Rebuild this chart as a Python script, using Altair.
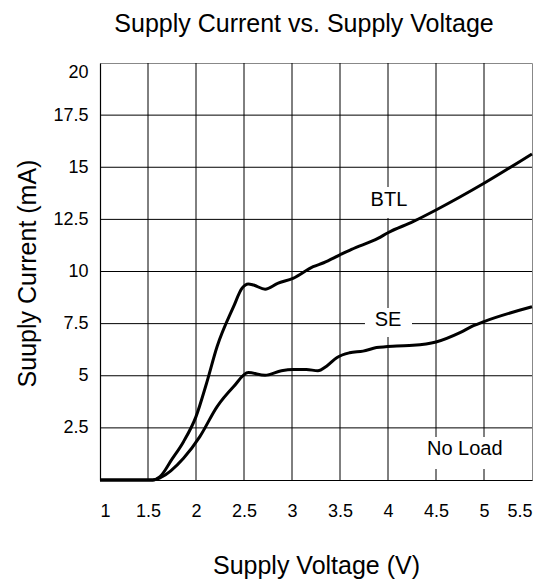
import altair as alt
import pandas as pd

# ---- data ----
btl_v = [1.0, 1.55, 1.625, 1.75, 1.87, 2.0, 2.11, 2.22, 2.39, 2.48, 2.545, 2.6, 2.72,
         2.85, 3.01, 3.22, 3.33, 3.5, 3.62, 3.9, 4.0, 4.26, 4.5, 5.0, 5.5]
btl_i = [0, 0, 0.16, 1.0, 1.84, 3.04, 4.64, 6.4, 8.3, 9.2, 9.4, 9.35, 9.15,
         9.43, 9.67, 10.23, 10.42, 10.8, 11.06, 11.6, 11.86, 12.39, 12.95, 14.23, 15.64]

se_v = [1.0, 1.55, 1.625, 1.87, 2.04, 2.22, 2.39, 2.545, 2.72, 2.89, 3.01, 3.15, 3.27,
        3.36, 3.47, 3.6, 3.74, 3.88, 4.09, 4.26, 4.5, 4.75, 4.89, 5.0, 5.5]
se_i = [0, 0, 0.1, 1.04, 2.08, 3.52, 4.47, 5.15, 5.02, 5.24, 5.3, 5.3, 5.24,
        5.46, 5.88, 6.1, 6.18, 6.35, 6.43, 6.46, 6.62, 7.07, 7.4, 7.6, 8.31]

x_ticks = [1, 1.5, 2, 2.5, 3, 3.5, 4, 4.5, 5, 5.5]
y_ticks = [2.5, 5, 7.5, 10, 12.5, 15, 17.5, 20]

# annotation labels (text, center x, center y) and their white background boxes
label_text = ["BTL", "SE", "No Load"]
label_x = [4.01, 4.0, 4.8]
label_y = [13.44, 7.67, 1.49]
box_x1 = [3.74, 3.76, 4.33]
box_x2 = [4.26, 4.25, 5.27]
box_y1 = [12.57, 6.86, 0.53]
box_y2 = [14.05, 8.25, 2.06]

FONT = "Liberation Sans"

X_MIN, X_MAX = x_ticks[0], x_ticks[-1]
Y_MIN, Y_MAX = 0, y_ticks[-1]

lines_df = pd.DataFrame(
    {"v": btl_v + se_v,
     "i": btl_i + se_i,
     "series": ["BTL"] * len(btl_v) + ["SE"] * len(se_v)}
)
labels_df = pd.DataFrame({"text": label_text, "x": label_x, "y": label_y,
                          "x1": box_x1, "x2": box_x2, "y1": box_y1, "y2": box_y2})
# inner grid lines (the outer frame is the view border / axis domains)
vgrid_df = pd.DataFrame({"g": x_ticks[1:-1], "lo": Y_MIN, "hi": Y_MAX})
hgrid_df = pd.DataFrame({"g": y_ticks[:-1], "lo": X_MIN, "hi": X_MAX})

x_scale = alt.Scale(domain=[X_MIN, X_MAX], nice=False, zero=False)
y_scale = alt.Scale(domain=[Y_MIN, Y_MAX], nice=False)

x_axis = alt.Axis(values=x_ticks, format=".3~g", title="Supply Voltage (V)", grid=False,
                  ticks=False, labelPadding=22, labelFlush=True,
                  titleBaseline="alphabetic", titleY=93, titleX=216)
y_axis = alt.Axis(values=y_ticks, format=".3~g", title="Suuply Current (mA)", grid=False,
                  ticks=False, labelPadding=12, labelFlush=True,
                  titleBaseline="alphabetic", titleX=-65, titleY=210, titleAngle=270)

vgrid = alt.Chart(vgrid_df).mark_rule(color="black", strokeWidth=1).encode(
    x=alt.X("g:Q", scale=x_scale, axis=x_axis),
    y=alt.Y("lo:Q", scale=y_scale, axis=y_axis),
    y2="hi:Q",
)
hgrid = alt.Chart(hgrid_df).mark_rule(color="black", strokeWidth=1).encode(
    y=alt.Y("g:Q", scale=y_scale, axis=y_axis),
    x=alt.X("lo:Q", scale=x_scale, axis=x_axis),
    x2="hi:Q",
)

lines = alt.Chart(lines_df).mark_line(strokeWidth=3, color="black",
                                      interpolate="monotone").encode(
    x=alt.X("v:Q", scale=x_scale, axis=x_axis),
    y=alt.Y("i:Q", scale=y_scale, axis=y_axis),
    detail="series:N",
)

boxes = alt.Chart(labels_df).mark_rect(color="white").encode(
    x=alt.X("x1:Q", scale=x_scale, axis=x_axis),
    x2="x2:Q",
    y=alt.Y("y1:Q", scale=y_scale, axis=y_axis),
    y2="y2:Q",
)

texts = alt.Chart(labels_df).mark_text(font=FONT, fontSize=20, color="black",
                                       align="center", baseline="middle").encode(
    x=alt.X("x:Q", scale=x_scale, axis=x_axis),
    y=alt.Y("y:Q", scale=y_scale, axis=y_axis),
    text="text:N",
)

chart = alt.layer(vgrid, hgrid, lines, boxes, texts).properties(
    width=432,
    height=417,
    title=alt.TitleParams("Supply Current vs. Supply Voltage", font=FONT, fontSize=25,
                          fontWeight="normal", color="black", anchor="middle",
                          frame="group", dx=-12, offset=26),
    autosize=alt.AutoSizeParams(type="none"),
    padding={"left": 92, "top": 55, "right": 4, "bottom": 100},
).configure_view(
    stroke="#888888", strokeWidth=1
).configure_axis(
    domainColor="black", domainWidth=1.2,
    labelFont=FONT, labelFontSize=18, labelColor="black",
    titleFont=FONT, titleFontSize=25, titleFontWeight="normal", titleColor="black",
)

chart.save("out.html", embed_options={"renderer": "svg", "actions": False})
